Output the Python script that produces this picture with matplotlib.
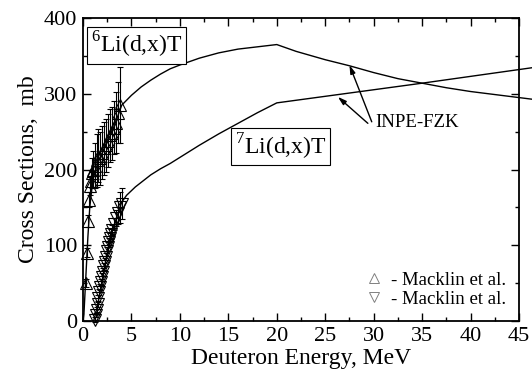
import matplotlib
matplotlib.use("Agg")
import matplotlib.pyplot as plt
from matplotlib.lines import Line2D

plt.rcParams['font.family'] = ['Liberation Serif', 'DejaVu Serif']
plt.rcParams['mathtext.fontset'] = 'custom'
plt.rcParams['mathtext.rm'] = 'Liberation Serif'

# INPE-FZK evaluated curves
li6_curve_x = [0.0, 0.1, 0.3, 0.5, 0.7, 1.0, 1.5, 2.0, 3.0, 4.0, 5.0, 6.0, 7.0, 8.0, 9.0, 10.0, 12.0, 14.0, 16.0, 18.0, 20.0,
               22.0, 25.0, 27.5, 30.0, 32.5, 35.0, 37.5, 40.0, 42.5, 45.0, 47.5, 50.0]
li6_curve_y = [0, 10, 60, 110, 150, 185, 208, 222, 250, 285, 298, 309, 318, 326, 333, 338, 347, 354, 359, 362, 365,
               356, 345, 337, 328, 320, 314, 308, 303, 299, 295, 291, 288]
li7_curve_x = [1.1, 1.5, 2.0, 2.5, 3.0, 3.5, 4.0, 4.5, 5.4, 6.0, 7.0, 8.0, 9.0, 10.0, 12.0, 14.0, 16.0, 18.0, 20.0, 35.0, 50.0]
li7_curve_y = [0, 20, 55, 90, 118, 138, 157, 166, 177, 183, 193, 201, 208, 216, 232, 247, 261, 275, 288, 314, 341]

# Macklin et al. 6Li(d,x)T
li6_x = [0.3, 0.4, 0.5, 0.6, 0.7, 0.8, 0.9, 1.0, 1.2, 1.4, 1.6, 1.8, 2.0, 2.2, 2.4, 2.6, 2.8, 3.0, 3.2, 3.4, 3.6, 3.8]
li6_y = [50, 90, 132, 160, 178, 185, 195, 200, 205, 212, 218, 215, 222, 228, 232, 238, 245, 248, 255, 262, 275, 285]
li6_err = [5, 6, 8, 10, 12, 15, 20, 25, 30, 35, 35, 35, 35, 35, 35, 35, 35, 35, 35, 40, 40, 50]

# Macklin et al. 7Li(d,x)T
li7_x = [1.2, 1.3, 1.4, 1.5, 1.6, 1.7, 1.8, 1.9, 2.0, 2.1, 2.2, 2.3, 2.4, 2.5, 2.6, 2.7, 2.8, 2.9, 3.0, 3.2, 3.4, 3.6, 3.8, 4.0]
li7_y = [2, 8, 15, 22, 30, 38, 45, 52, 58, 65, 72, 78, 85, 92, 98, 104, 110, 115, 120, 128, 136, 143, 150, 155]
li7_err = [3, 3, 3, 3, 4, 4, 4, 4, 5, 5, 5, 5, 5, 6, 6, 6, 6, 7, 7, 8, 10, 15, 20, 20]

fig = plt.figure(figsize=(5.32, 3.84), dpi=100)
ax = fig.add_axes([0.156, 0.164, 0.8196, 0.789])

ax.plot(li6_curve_x, li6_curve_y, color='black', lw=1.0, clip_on=False, zorder=3)
ax.plot(li7_curve_x, li7_curve_y, color='black', lw=1.0, clip_on=False, zorder=3)

ax.errorbar(li6_x, li6_y, yerr=li6_err, fmt='^', ms=8, mfc='none', mec='black', mew=0.8,
            ecolor='black', elinewidth=0.8, capsize=2, capthick=0.8, clip_on=False)
ax.errorbar(li7_x, li7_y, yerr=li7_err, fmt='v', ms=8, mfc='none', mec='black', mew=0.8,
            ecolor='black', elinewidth=0.8, capsize=2, capthick=0.8, clip_on=False)

ax.set_xlim(0, 45)
ax.set_ylim(0, 400)
ax.set_xticks(range(0, 46, 5))
ax.set_xticks([2.5 + 5 * i for i in range(9)], minor=True)
ax.set_yticks(range(0, 401, 100))
ax.set_yticks(range(50, 400, 100), minor=True)
ax.tick_params(which='both', direction='in', top=True, right=True, labelsize=16, width=1.0)
ax.tick_params(which='major', length=6, pad=4)
ax.tick_params(which='minor', length=3)
for s in ax.spines.values():
    s.set_linewidth(1.3)

ax.set_xlabel('Deuteron Energy, MeV', fontsize=17, labelpad=2)
ax.set_ylabel('Cross Sections,  mb', fontsize=17, labelpad=4)

box = dict(boxstyle='square,pad=0.15', fc='white', ec='black', lw=0.8)
ax.text(5.5, 364, r'$^{6}$Li(d,x)T', fontsize=17, ha='center', va='center', bbox=box, zorder=5)
ax.text(20.4, 230, r'$^{7}$Li(d,x)T', fontsize=17, ha='center', va='center', bbox=box, zorder=5)

ax.text(30.2, 262, 'INPE-FZK', fontsize=13.5, ha='left', va='center')
arrow = dict(arrowstyle='-|>,head_length=0.5,head_width=0.15', color='black', lw=1.0, shrinkA=0, shrinkB=0)
ax.annotate('', xy=(27.5, 338), xytext=(29.8, 263), arrowprops=arrow)
ax.annotate('', xy=(26.3, 296), xytext=(29.4, 261), arrowprops=arrow)

handles = [Line2D([], [], marker='^', ls='none', mfc='none', mec='gray', ms=7, mew=0.7),
           Line2D([], [], marker='v', ls='none', mfc='none', mec='gray', ms=7, mew=0.7)]
ax.legend(handles, ['- Macklin et al.', '- Macklin et al.'], loc='lower right', frameon=False,
          fontsize=13.5, handlelength=1.0, handletextpad=0.4, labelspacing=0.1,
          borderaxespad=0.3)

fig.savefig('out.png', dpi=100)
